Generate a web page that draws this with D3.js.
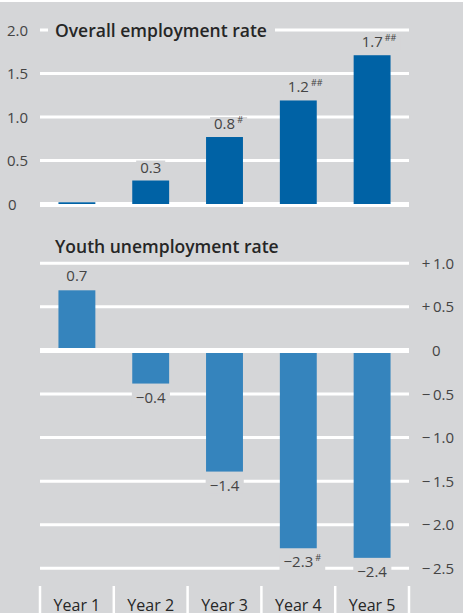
<!DOCTYPE html>
<html>
<head>
<meta charset="utf-8">
<script src="https://cdn.jsdelivr.net/npm/d3@7"></script>
<style>
  body { margin: 0; background: #fff; }
  svg { display: block; font-family: "Open Sans", "DejaVu Sans", sans-serif; }
</style>
</head>
<body>
<div id="chart"></div>
<script>
// data
var years = ["Year 1", "Year 2", "Year 3", "Year 4", "Year 5"];

var employment = [0.02, 0.27, 0.77, 1.19, 1.71];
var employmentLabels = ["", "0.3", "0.8", "1.2", "1.7"];
var employmentMarks = ["", "", "#", "##", "##"];

var youth = [0.69, -0.38, -1.39, -2.27, -2.38];
var youthLabels = ["0.7", "\u22120.4", "\u22121.4", "\u22122.3", "\u22122.4"];
var youthMarks = ["", "", "", "#", ""];

var topTicks = [0, 0.5, 1, 1.5, 2];
var topTickLabels = ["0", "0.5", "1.0", "1.5", "2.0"];
var bottomTicks = [1, 0.5, 0, -0.5, -1, -1.5, -2, -2.5];
var bottomTickLabels = ["+\u20091.0", "+\u20090.5", "0", "\u2212\u20090.5", "\u2212\u20091.0", "\u2212\u20091.5", "\u2212\u20092.0", "\u2212\u20092.5"];

var W = 463, H = 613;
var bg = "#d5d6d8";

var svg = d3.select("#chart").append("svg")
    .attr("width", W)
    .attr("height", H);

svg.append("rect").attr("width", W).attr("height", H).attr("fill", bg);
svg.append("rect").attr("width", W).attr("height", 2).attr("fill", "#fff");

// shared x scale
var x = d3.scaleBand()
    .domain(years)
    .range([40, 409])
    .paddingInner(0.5)
    .paddingOuter(0.25);
var step = x.step();

// ---------- top panel ----------
var yTop = d3.scaleLinear().domain([0, 2]).range([204, 30]);

var topG = svg.append("g");

topG.selectAll(".grid")
    .data(topTicks)
    .enter().append("line")
    .attr("x1", 40).attr("x2", 409)
    .attr("y1", function(d) { return yTop(d) + (d === 0 ? 0.5 : 0); })
    .attr("y2", function(d) { return yTop(d) + (d === 0 ? 0.5 : 0); })
    .attr("stroke", "#fff")
    .attr("stroke-width", function(d) { return d === 0 ? 5 : 3; });

topG.selectAll(".tick")
    .data(topTicks)
    .enter().append("text")
    .attr("x", function(d) { return d === 0 ? 8 : 7; })
    .attr("y", function(d) { return yTop(d) + 5.5; })
    .attr("font-size", 15)
    .attr("fill", "#444")
    .text(function(d, i) { return topTickLabels[i]; });

// title with a gray box behind it
topG.append("rect")
    .attr("x", 48).attr("y", 22).attr("width", 227).attr("height", 18)
    .attr("fill", bg);
topG.append("text")
    .attr("x", 55).attr("y", 37)
    .attr("font-size", 17.5)
    .attr("font-weight", 600)
    .attr("fill", "#262626")
    .text("Overall employment rate");

topG.selectAll(".bar")
    .data(employment)
    .enter().append("rect")
    .attr("x", function(d, i) { return x(years[i]); })
    .attr("width", x.bandwidth())
    .attr("y", function(d) { return yTop(d); })
    .attr("height", function(d) { return yTop(0) - yTop(d); })
    .attr("fill", "#0062a5");

function valueLabel(g, cx, baseline, label, mark) {
    var t = g.append("text")
        .attr("x", cx).attr("y", baseline)
        .attr("text-anchor", "middle")
        .attr("font-size", 15)
        .attr("fill", "#444");
    t.append("tspan").text(label);
    if (mark) {
        t.append("tspan").attr("dx", 2).attr("dy", -6)
            .attr("font-size", 9).text(mark);
    }
    var b = t.node().getBBox();
    // shift so the number (not the mark) sits centered over the bar
    if (mark) {
        var shift = (b.width - t.select("tspan").node().getComputedTextLength()) / 2;
        t.attr("x", cx + shift);
        b = t.node().getBBox();
    }
    g.insert("rect", function() { return t.node(); })
        .attr("x", b.x - 4).attr("y", baseline - 12)
        .attr("width", b.width + 8).attr("height", 15)
        .attr("fill", bg);
}

employment.forEach(function(d, i) {
    if (!employmentLabels[i]) return;
    valueLabel(topG, x(years[i]) + x.bandwidth() / 2, yTop(d) - 8, employmentLabels[i], employmentMarks[i]);
});

// ---------- bottom panel ----------
var yBot = d3.scaleLinear().domain([-2.5, 1]).range([568.3, 263.3]);

var botG = svg.append("g");

botG.selectAll(".grid")
    .data(bottomTicks.filter(function(d) { return d !== 0; }))
    .enter().append("line")
    .attr("x1", 40).attr("x2", 409)
    .attr("y1", function(d) { return yBot(d); })
    .attr("y2", function(d) { return yBot(d); })
    .attr("stroke", "#fff")
    .attr("stroke-width", 3);

botG.selectAll(".tick")
    .data(bottomTicks)
    .enter().append("text")
    .attr("x", function(d) { return d === 0 ? 432 : 454; })
    .attr("y", function(d) { return yBot(d) + 5.5; })
    .attr("text-anchor", function(d) { return d === 0 ? "start" : "end"; })
    .attr("font-size", 15)
    .attr("fill", "#444")
    .text(function(d, i) { return bottomTickLabels[i]; });

botG.append("text")
    .attr("x", 55).attr("y", 253)
    .attr("font-size", 17.5)
    .attr("font-weight", 600)
    .attr("fill", "#262626")
    .text("Youth unemployment rate");

botG.selectAll(".bar")
    .data(youth)
    .enter().append("rect")
    .attr("x", function(d, i) { return x(years[i]); })
    .attr("width", x.bandwidth())
    .attr("y", function(d) { return yBot(Math.max(0, d)); })
    .attr("height", function(d) { return Math.abs(yBot(d) - yBot(0)); })
    .attr("fill", "#3584bd");

botG.append("line")
    .attr("x1", 40).attr("x2", 409)
    .attr("y1", yBot(0)).attr("y2", yBot(0))
    .attr("stroke", "#fff")
    .attr("stroke-width", 5);

youth.forEach(function(d, i) {
    var cx = x(years[i]) + x.bandwidth() / 2;
    var base = d >= 0 ? yBot(d) - 9 : yBot(d) + 19;
    valueLabel(botG, cx, base, youthLabels[i], youthMarks[i]);
});

// category axis with separators
var sep = d3.range(years.length + 1).map(function(i) { return 40 + i * step; });
svg.selectAll(".sep")
    .data(sep)
    .enter().append("line")
    .attr("x1", function(d) { return d; }).attr("x2", function(d) { return d; })
    .attr("y1", 586).attr("y2", H)
    .attr("stroke", "#fff")
    .attr("stroke-width", 2.5);

svg.selectAll(".year")
    .data(years)
    .enter().append("text")
    .attr("x", function(d) { return x(d) + x.bandwidth() / 2; })
    .attr("y", 611)
    .attr("text-anchor", "middle")
    .attr("font-size", 16)
    .attr("fill", "#262626")
    .text(function(d) { return d; });
</script>
</body>
</html>
